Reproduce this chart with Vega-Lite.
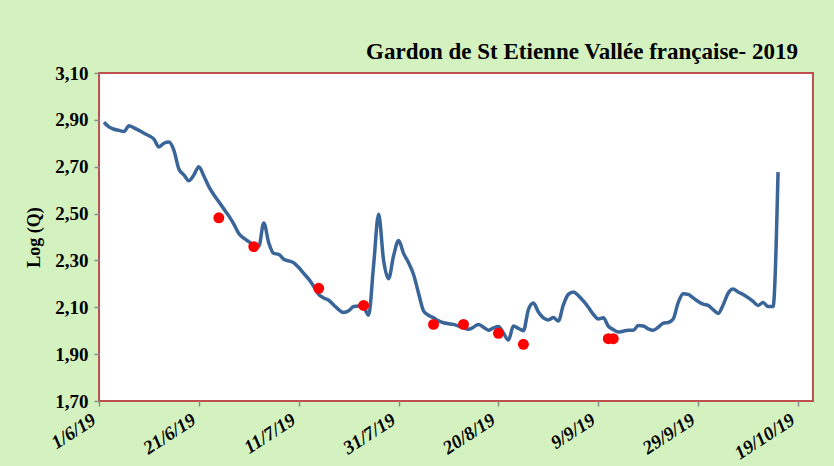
{
 "$schema": "https://vega.github.io/schema/vega-lite/v6.json",
 "autosize": {"type": "none"},
 "width": 714,
 "height": 328,
 "padding": {"left": 99, "top": 73, "right": 21, "bottom": 65},
 "background": "#d4f2bf",
 "title": {"text": "Gardon de St Etienne Vallée française- 2019", "anchor": "end", "font": "Liberation Serif", "fontSize": 23, "fontWeight": "bold", "color": "#000000", "dx": -15, "offset": 0},
 "config": {"view": {"fill": "#ffffff", "stroke": "#c0504d", "strokeWidth": 2}},
 "datasets": {
  "flow": [
   {"date": "2019-06-02", "logQ": 2.89}, {"date": "2019-06-03", "logQ": 2.87}, {"date": "2019-06-04", "logQ": 2.86},
   {"date": "2019-06-05", "logQ": 2.855}, {"date": "2019-06-06", "logQ": 2.85}, {"date": "2019-06-07", "logQ": 2.875},
   {"date": "2019-06-08", "logQ": 2.866}, {"date": "2019-06-09", "logQ": 2.855}, {"date": "2019-06-10", "logQ": 2.843},
   {"date": "2019-06-11", "logQ": 2.832}, {"date": "2019-06-12", "logQ": 2.818}, {"date": "2019-06-13", "logQ": 2.784},
   {"date": "2019-06-14", "logQ": 2.8}, {"date": "2019-06-15", "logQ": 2.805}, {"date": "2019-06-16", "logQ": 2.77},
   {"date": "2019-06-17", "logQ": 2.69}, {"date": "2019-06-18", "logQ": 2.665}, {"date": "2019-06-19", "logQ": 2.64},
   {"date": "2019-06-20", "logQ": 2.665}, {"date": "2019-06-21", "logQ": 2.7}, {"date": "2019-06-22", "logQ": 2.66},
   {"date": "2019-06-23", "logQ": 2.615}, {"date": "2019-06-24", "logQ": 2.58}, {"date": "2019-06-25", "logQ": 2.55},
   {"date": "2019-06-26", "logQ": 2.52}, {"date": "2019-06-27", "logQ": 2.49}, {"date": "2019-06-28", "logQ": 2.455},
   {"date": "2019-06-29", "logQ": 2.415}, {"date": "2019-06-30", "logQ": 2.395}, {"date": "2019-07-01", "logQ": 2.38},
   {"date": "2019-07-02", "logQ": 2.365}, {"date": "2019-07-03", "logQ": 2.36}, {"date": "2019-07-04", "logQ": 2.46},
   {"date": "2019-07-05", "logQ": 2.375}, {"date": "2019-07-06", "logQ": 2.33}, {"date": "2019-07-07", "logQ": 2.326},
   {"date": "2019-07-08", "logQ": 2.305}, {"date": "2019-07-09", "logQ": 2.298}, {"date": "2019-07-10", "logQ": 2.29},
   {"date": "2019-07-11", "logQ": 2.27}, {"date": "2019-07-12", "logQ": 2.245}, {"date": "2019-07-13", "logQ": 2.22},
   {"date": "2019-07-14", "logQ": 2.19}, {"date": "2019-07-15", "logQ": 2.155}, {"date": "2019-07-16", "logQ": 2.14},
   {"date": "2019-07-17", "logQ": 2.13}, {"date": "2019-07-18", "logQ": 2.11}, {"date": "2019-07-19", "logQ": 2.09},
   {"date": "2019-07-20", "logQ": 2.078}, {"date": "2019-07-21", "logQ": 2.085}, {"date": "2019-07-22", "logQ": 2.103},
   {"date": "2019-07-23", "logQ": 2.105}, {"date": "2019-07-24", "logQ": 2.1}, {"date": "2019-07-25", "logQ": 2.066},
   {"date": "2019-07-26", "logQ": 2.28}, {"date": "2019-07-27", "logQ": 2.497}, {"date": "2019-07-28", "logQ": 2.3},
   {"date": "2019-07-29", "logQ": 2.222}, {"date": "2019-07-30", "logQ": 2.32}, {"date": "2019-07-31", "logQ": 2.385},
   {"date": "2019-08-01", "logQ": 2.33}, {"date": "2019-08-02", "logQ": 2.29}, {"date": "2019-08-03", "logQ": 2.24},
   {"date": "2019-08-04", "logQ": 2.16}, {"date": "2019-08-05", "logQ": 2.085}, {"date": "2019-08-06", "logQ": 2.066},
   {"date": "2019-08-07", "logQ": 2.055}, {"date": "2019-08-08", "logQ": 2.042}, {"date": "2019-08-09", "logQ": 2.034},
   {"date": "2019-08-10", "logQ": 2.03}, {"date": "2019-08-11", "logQ": 2.027}, {"date": "2019-08-12", "logQ": 2.02},
   {"date": "2019-08-13", "logQ": 2.012}, {"date": "2019-08-14", "logQ": 2.006}, {"date": "2019-08-15", "logQ": 2.015},
   {"date": "2019-08-16", "logQ": 2.027}, {"date": "2019-08-17", "logQ": 2.015}, {"date": "2019-08-18", "logQ": 2.002},
   {"date": "2019-08-19", "logQ": 2.012}, {"date": "2019-08-20", "logQ": 2.018}, {"date": "2019-08-21", "logQ": 1.99},
   {"date": "2019-08-22", "logQ": 1.96}, {"date": "2019-08-23", "logQ": 2.02}, {"date": "2019-08-24", "logQ": 2.01},
   {"date": "2019-08-25", "logQ": 2.0}, {"date": "2019-08-26", "logQ": 2.09}, {"date": "2019-08-27", "logQ": 2.118},
   {"date": "2019-08-28", "logQ": 2.08}, {"date": "2019-08-29", "logQ": 2.055}, {"date": "2019-08-30", "logQ": 2.046},
   {"date": "2019-08-31", "logQ": 2.056}, {"date": "2019-09-01", "logQ": 2.041}, {"date": "2019-09-02", "logQ": 2.11},
   {"date": "2019-09-03", "logQ": 2.155}, {"date": "2019-09-04", "logQ": 2.165}, {"date": "2019-09-05", "logQ": 2.15},
   {"date": "2019-09-06", "logQ": 2.127}, {"date": "2019-09-07", "logQ": 2.1}, {"date": "2019-09-08", "logQ": 2.07},
   {"date": "2019-09-09", "logQ": 2.05}, {"date": "2019-09-10", "logQ": 2.055}, {"date": "2019-09-11", "logQ": 2.02},
   {"date": "2019-09-12", "logQ": 2.005}, {"date": "2019-09-13", "logQ": 1.994}, {"date": "2019-09-14", "logQ": 1.998},
   {"date": "2019-09-15", "logQ": 2.002}, {"date": "2019-09-16", "logQ": 2.002}, {"date": "2019-09-17", "logQ": 2.022},
   {"date": "2019-09-18", "logQ": 2.02}, {"date": "2019-09-19", "logQ": 2.008}, {"date": "2019-09-20", "logQ": 2.002},
   {"date": "2019-09-21", "logQ": 2.015}, {"date": "2019-09-22", "logQ": 2.032}, {"date": "2019-09-23", "logQ": 2.035},
   {"date": "2019-09-24", "logQ": 2.05}, {"date": "2019-09-25", "logQ": 2.12}, {"date": "2019-09-26", "logQ": 2.158},
   {"date": "2019-09-27", "logQ": 2.155}, {"date": "2019-09-28", "logQ": 2.14}, {"date": "2019-09-29", "logQ": 2.125},
   {"date": "2019-09-30", "logQ": 2.113}, {"date": "2019-10-01", "logQ": 2.108}, {"date": "2019-10-02", "logQ": 2.09},
   {"date": "2019-10-03", "logQ": 2.074}, {"date": "2019-10-04", "logQ": 2.11}, {"date": "2019-10-05", "logQ": 2.16},
   {"date": "2019-10-06", "logQ": 2.178}, {"date": "2019-10-07", "logQ": 2.165}, {"date": "2019-10-08", "logQ": 2.155},
   {"date": "2019-10-09", "logQ": 2.141}, {"date": "2019-10-10", "logQ": 2.125}, {"date": "2019-10-11", "logQ": 2.108},
   {"date": "2019-10-12", "logQ": 2.12}, {"date": "2019-10-13", "logQ": 2.103}, {"date": "2019-10-14", "logQ": 2.103},
   {"date": "2019-10-15", "logQ": 2.677}
  ],
  "samples": [
   {"date": "2019-06-25", "logQ": 2.482}, {"date": "2019-07-02", "logQ": 2.359}, {"date": "2019-07-15", "logQ": 2.181},
   {"date": "2019-07-24", "logQ": 2.108}, {"date": "2019-08-07", "logQ": 2.027}, {"date": "2019-08-13", "logQ": 2.027},
   {"date": "2019-08-20", "logQ": 1.989}, {"date": "2019-08-25", "logQ": 1.942}, {"date": "2019-09-11", "logQ": 1.966},
   {"date": "2019-09-12", "logQ": 1.966}
  ]
 },
 "layer": [
  {
   "data": {"name": "flow"},
   "mark": {"type": "line", "color": "#3a6598", "strokeWidth": 3.5, "interpolate": "monotone"},
   "encoding": {
    "x": {
     "field": "date", "type": "temporal",
     "scale": {"type": "utc", "domain": [{"year": 2019, "month": 6, "date": 1, "utc": true}, {"year": 2019, "month": 10, "date": 22, "utc": true}]},
     "axis": {
      "title": null, "grid": false, "domain": false,
      "values": [
       {"year": 2019, "month": 6, "date": 1, "utc": true}, {"year": 2019, "month": 6, "date": 21, "utc": true},
       {"year": 2019, "month": 7, "date": 11, "utc": true}, {"year": 2019, "month": 7, "date": 31, "utc": true},
       {"year": 2019, "month": 8, "date": 20, "utc": true}, {"year": 2019, "month": 9, "date": 9, "utc": true},
       {"year": 2019, "month": 9, "date": 29, "utc": true}, {"year": 2019, "month": 10, "date": 19, "utc": true}
      ],
      "labelExpr": "utcFormat(datum.value, '%-d/%-m/%y')",
      "labelAngle": -33, "labelAlign": "right", "labelBaseline": "bottom", "labelPadding": 20,
      "labelFont": "Liberation Serif", "labelFontSize": 19, "labelFontWeight": "bold", "labelFontStyle": "italic", "labelColor": "#000000",
      "tickSize": 5, "tickColor": "#8c8c8c", "tickWidth": 1.5, "labelOverlap": false, "labelFlush": false
     }
    },
    "y": {
     "field": "logQ", "type": "quantitative",
     "scale": {"domain": [1.7, 3.1], "nice": false, "zero": false},
     "axis": {
      "title": "Log (Q)", "grid": false, "domain": false,
      "values": [1.7, 1.9, 2.1, 2.3, 2.5, 2.7, 2.9, 3.1],
      "labelExpr": "replace(format(datum.value, '.2f'), '.', ',')",
      "labelFont": "Liberation Serif", "labelFontSize": 19, "labelFontWeight": "bold", "labelColor": "#000000", "labelPadding": 6,
      "titleFont": "Liberation Serif", "titleFontSize": 18, "titleFontWeight": "bold", "titleColor": "#000000", "titlePadding": 11,
      "tickSize": 5, "tickColor": "#8c8c8c", "tickWidth": 1.5
     }
    }
   }
  },
  {
   "data": {"name": "samples"},
   "mark": {"type": "circle", "color": "#ff0000", "size": 120, "opacity": 1},
   "encoding": {
    "x": {"field": "date", "type": "temporal"},
    "y": {"field": "logQ", "type": "quantitative"}
   }
  }
 ]
}
